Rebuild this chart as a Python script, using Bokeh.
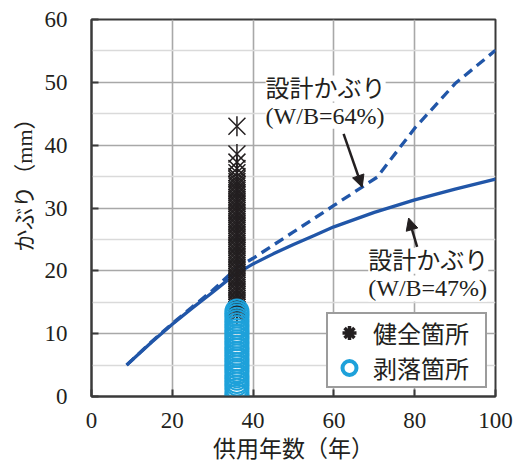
import math
from bokeh.plotting import figure
from bokeh.models import (ColumnDataSource, FixedTicker, Label, Arrow,
                          NormalHead, Legend, LegendItem, Range1d, Title)
from bokeh.embed import file_html
from bokeh.resources import INLINE

# ---- data ----
years_47 = [8.7, 15, 20, 25, 30, 35, 40, 45, 50, 55, 60, 70, 80, 90, 100]
cover_47 = [5.0, 8.7, 11.5, 14.1, 16.6, 19.2, 21.1, 22.7, 24.2, 25.6, 27.0, 29.3, 31.3, 33.0, 34.6]

years_64 = [8.7, 15, 20, 25, 30, 36, 40, 50, 60, 70.7, 80, 90, 100]
cover_64 = [5.0, 8.8, 11.6, 14.3, 16.9, 20.5, 22.0, 26.2, 30.4, 34.9, 42.7, 49.8, 55.1]

inspection_age = 36
healthy_cover = [43.0, 38.6, 37.3, 36.3, 35.6, 35.0, 34.6, 34.2, 33.8, 33.5, 33.1, 32.8,
                 32.4, 32.1, 31.7, 31.4, 31.0, 30.7, 30.3, 30.0, 29.6, 29.3, 28.9, 28.6,
                 28.2, 27.9, 27.5, 27.2, 26.8, 26.5, 26.1, 25.8, 25.4, 25.1, 24.7, 24.4,
                 24.0, 23.7, 23.3, 23.0, 22.6, 22.3, 21.9, 21.6, 21.2, 20.9, 20.5, 20.2,
                 19.8, 19.5, 19.1, 18.8, 18.4, 18.1, 17.7, 17.4, 17.0, 16.7, 16.3, 16.0,
                 15.6, 15.3, 14.9, 14.6, 14.2, 13.8, 13.4, 13.0]
spalled_cover = [0.0, 0.4, 1.0, 1.5, 2.0, 2.4, 2.9, 3.3, 3.8, 4.2, 4.7, 5.1, 5.6, 6.0,
                 6.5, 6.9, 7.4, 7.8, 8.3, 8.7, 9.2, 9.6, 10.1, 10.5, 11.0, 11.4, 11.9,
                 12.3, 12.8, 13.2, 13.6]

x_ticks = [0, 20, 40, 60, 80, 100]
y_ticks = [0, 10, 20, 30, 40, 50, 60]
y_minor = [5, 15, 25, 35, 45, 55]

label_healthy = "健全箇所"
label_spalled = "剥落箇所"
label_design = "設計かぶり"
label_wb64 = "(W/B=64%)"
label_wb47 = "(W/B=47%)"
x_title = "供用年数（年）"
y_title = "かぶり（mm）"

# ---- style ----
FONT = "'Liberation Serif', 'Noto Sans CJK JP', serif"
TXT = "#231f20"
BLUE = "#2156a8"
CYAN = "#1ea1da"
FRAME = "#3a3a3a"

p = figure(width=518, height=465, output_backend="svg", toolbar_location=None,
           x_range=Range1d(0, 100), y_range=Range1d(0, 60),
           min_border_left=91, min_border_right=23, min_border_top=19, min_border_bottom=69)
p.background_fill_color = "white"
p.border_fill_color = "white"
p.outline_line_color = FRAME
p.outline_line_width = 2

p.xaxis.ticker = FixedTicker(ticks=x_ticks)
p.yaxis.ticker = FixedTicker(ticks=y_ticks, minor_ticks=y_minor)
for ax in (p.xaxis, p.yaxis):
    ax.axis_line_color = FRAME
    ax.axis_line_width = 2
    ax.major_tick_line_color = FRAME
    ax.major_tick_line_width = 2
    ax.major_tick_in = 7
    ax.major_tick_out = 0
    ax.minor_tick_line_color = None
    ax.major_label_text_font = FONT
    ax.major_label_text_font_size = "23px"
    ax.major_label_text_color = TXT
p.yaxis.major_label_standoff = 20
p.xaxis.major_label_standoff = 16
p.xaxis.axis_label = x_title
p.xaxis.axis_label_text_font = FONT
p.xaxis.axis_label_text_font_size = "23px"
p.xaxis.axis_label_text_font_style = "normal"
p.xaxis.axis_label_text_color = TXT
p.xaxis.axis_label_standoff = 6

p.xgrid.grid_line_color = "#a8a8a8"
p.xgrid.grid_line_width = 1.6
p.ygrid.grid_line_color = "#a8a8a8"
p.ygrid.grid_line_width = 1.6
p.ygrid.minor_grid_line_color = "#dadada"
p.ygrid.minor_grid_line_width = 1.6

# y title
p.add_layout(Title(text=y_title, align="right", offset=88, standoff=10,
                   text_font=FONT, text_font_size="22px", text_font_style="normal",
                   text_color=TXT), "left")

# design cover lines
p.line(years_47, cover_47, line_color=BLUE, line_width=3.3)
p.line(years_64, cover_64, line_color=BLUE, line_width=3.3, line_dash="10 6")

# measured points
hsrc = ColumnDataSource(dict(x=[inspection_age] * len(healthy_cover), y=healthy_cover))
ssrc = ColumnDataSource(dict(x=[inspection_age] * len(spalled_cover), y=spalled_cover))
p.scatter("x", "y", source=hsrc, marker="x", size=24, line_color=TXT, line_width=1.5)
p.scatter("x", "y", source=hsrc, marker="dash", angle=math.pi / 2, size=20,
          line_color=TXT, line_width=1.5)
p.scatter("x", "y", source=ssrc, marker="circle", size=23, line_color=CYAN,
          line_width=2, fill_alpha=0)

# legend-only renderers (same data, hidden from the plot)
la = p.scatter("x", "y", source=hsrc, marker="asterisk", size=15,
               line_color=TXT, line_width=3.5, visible=False)
lc = p.scatter("x", "y", source=ssrc, marker="circle", size=15,
               line_color=CYAN, line_width=4, fill_alpha=0, visible=False)
legend = Legend(items=[LegendItem(label=label_healthy, renderers=[la]),
                       LegendItem(label=label_spalled, renderers=[lc])],
                location="bottom_right", margin=8, padding=1, spacing=-8,
                glyph_width=40, glyph_height=35, label_standoff=4, label_width=111,
                label_height=20, label_text_line_height=1.0,
                label_text_font=FONT, label_text_font_size="24px", label_text_color=TXT,
                border_line_color=FRAME, border_line_width=2,
                background_fill_color="white", background_fill_alpha=1)
p.add_layout(legend)

# annotations
for (x, y, t) in [(43.1, 49.0, label_design), (43.1, 44.7, label_wb64),
                  (68.5, 21.6, label_design), (68.5, 17.2, label_wb47)]:
    p.add_layout(Label(x=x, y=y, text=t, text_align="left", text_baseline="middle",
                       text_font=FONT, text_font_size="24px", text_color=TXT,
                       background_fill_color="white", background_fill_alpha=1))

p.add_layout(Arrow(x_start=62.4, y_start=41.8, x_end=67.0, y_end=33.3,
                   line_color=TXT, line_width=2.5,
                   end=NormalHead(size=12, fill_color=TXT, line_color=TXT)))
p.add_layout(Arrow(x_start=80.6, y_start=23.8, x_end=78.5, y_end=28.4,
                   line_color=TXT, line_width=2.5,
                   end=NormalHead(size=12, fill_color=TXT, line_color=TXT)))

open("out.html", "w").write(file_html(p, INLINE))
